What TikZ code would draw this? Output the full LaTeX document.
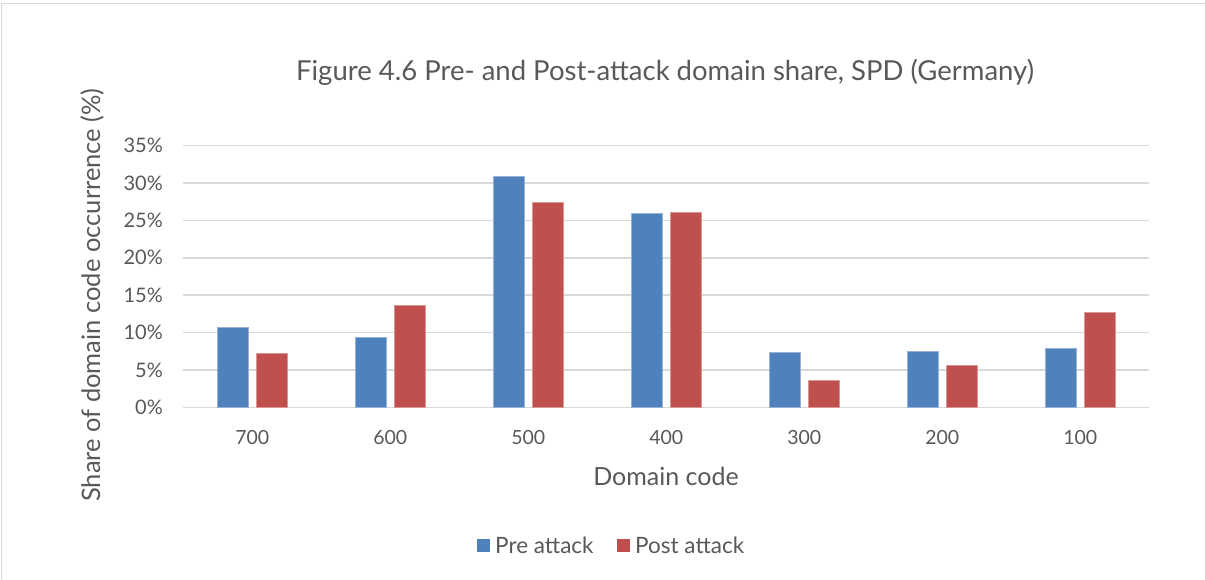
\documentclass[tikz,border=0pt]{standalone}
\usepackage{fontspec}
\setmainfont{Lato}
\begin{document}
\begin{tikzpicture}[x=1pt,y=-1pt,
  txt/.style={text=textgray,inner sep=0pt},
  grid/.style={draw=gridgray,line width=1.5pt},
  prebar/.style={fill=preblue,draw=preblue!60!white,line width=0.6pt},
  postbar/.style={fill=postred,draw=postred!60!white,line width=0.6pt}]
\definecolor{textgray}{HTML}{595959}
\definecolor{gridgray}{HTML}{D9D9D9}
\definecolor{preblue}{HTML}{4F81BD}
\definecolor{postred}{HTML}{C0504D}
\definecolor{framegray}{HTML}{D9D9D9}
\useasboundingbox (0,0) rectangle (1205,580);
\fill[white] (0,0) rectangle (1205,580);
% frame
\draw[framegray,line width=1.2pt] (1.5,580) -- (1.5,3.5) -- (1205,3.5);
% gridlines and y labels
\foreach \v in {0,5,...,35}{
  \draw[grid] (183,{407.5-7.486*\v}) -- (1149,{407.5-7.486*\v});
  \node[txt,anchor=east,font=\fontsize{20}{22}\selectfont] (yl\v) at (163,{407.5-7.486*\v}) {\v\%};
}
% bars
\foreach \i/\lab/\pre/\post in {0/700/10.66/7.24,1/600/9.42/13.7,2/500/30.9/27.36,3/400/25.98/26.07,4/300/7.41/3.67,5/200/7.45/5.68,6/100/7.85/12.66}{
  \pgfmathsetmacro{\c}{252.3+138*\i}
  \path[prebar] ({\c-35},407.5) rectangle ({\c-4},{407.5-7.486*\pre});
  \path[postbar] ({\c+4},407.5) rectangle ({\c+35},{407.5-7.486*\post});
  \node[txt,font=\fontsize{19.5}{22}\selectfont] (xl\lab) at (\c,438) {\lab};
}
% titles
\node[txt,font=\fontsize{27.5}{32}\selectfont] (title) at (665,72) {Figure 4.6 Pre- and Post-attack domain share, SPD (Germany)};
\node[txt,font=\fontsize{25}{28}\selectfont] (xtitle) at (666,476) {Domain code};
\node[txt,font=\fontsize{25.5}{28}\selectfont,rotate=90] (ytitle) at (92,295) {Share of domain code occurrence (\%)};
% legend
\node[fill=preblue,minimum size=13pt,inner sep=0pt] (lgpre) at (483.5,545) {};
\node[txt,anchor=west,font=\fontsize{22.5}{26}\selectfont] (lgpret) at (495,545) {Pre attack};
\node[fill=postred,minimum size=13pt,inner sep=0pt] (lgpost) at (623.5,545) {};
\node[txt,anchor=west,font=\fontsize{22.5}{26}\selectfont] (lgpostt) at (635,545) {Post attack};
\end{tikzpicture}
\end{document}
